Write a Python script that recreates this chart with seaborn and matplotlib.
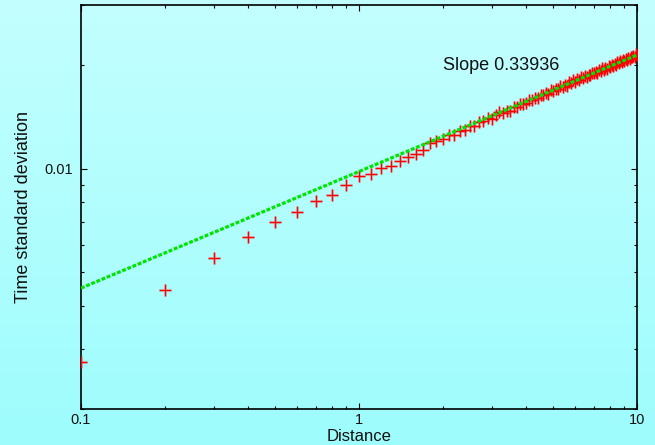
import numpy as np
import pandas as pd
import matplotlib
matplotlib.use("Agg")
import matplotlib.pyplot as plt
import seaborn as sns
from matplotlib.ticker import FixedLocator, FixedFormatter, NullFormatter

# Measured standard deviation of arrival time versus distance
distance = [
    0.1, 0.2, 0.3, 0.4, 0.5, 0.6, 0.7, 0.8, 0.9, 1.0,
    1.1, 1.2, 1.3, 1.4, 1.5, 1.6, 1.7, 1.8, 1.9, 2.0,
    2.1, 2.2, 2.3, 2.4, 2.5, 2.6, 2.7, 2.8, 2.9, 3.0,
    3.1, 3.2, 3.3, 3.4, 3.5, 3.6, 3.7, 3.8, 3.9, 4.0,
    4.1, 4.2, 4.3, 4.4, 4.5, 4.6, 4.7, 4.8, 4.9, 5.0,
    5.1, 5.2, 5.3, 5.4, 5.5, 5.6, 5.7, 5.8, 5.9, 6.0,
    6.1, 6.2, 6.3, 6.4, 6.5, 6.6, 6.7, 6.8, 6.9, 7.0,
    7.1, 7.2, 7.3, 7.4, 7.5, 7.6, 7.7, 7.8, 7.9, 8.0,
    8.1, 8.2, 8.3, 8.4, 8.5, 8.6, 8.7, 8.8, 8.9, 9.0,
    9.1, 9.2, 9.3, 9.4, 9.5, 9.6, 9.7, 9.8, 9.9, 10.0,
]
time_sd = [
    0.002749, 0.004446, 0.005487, 0.006334, 0.006987, 0.007508, 0.008084, 0.008377, 0.009000, 0.009515,
    0.009670, 0.010067, 0.010200, 0.010560, 0.010860, 0.011070, 0.011350, 0.011880, 0.012090, 0.012230,
    0.012590, 0.012580, 0.012860, 0.012990, 0.013300, 0.013370, 0.013700, 0.013740, 0.014060, 0.013990,
    0.014340, 0.014640, 0.014510, 0.014750, 0.014770, 0.015110, 0.015130, 0.015500, 0.015470, 0.015510,
    0.015890, 0.015840, 0.016080, 0.016030, 0.016450, 0.016370, 0.016590, 0.016550, 0.016950, 0.016880,
    0.017130, 0.017040, 0.017440, 0.017340, 0.017540, 0.017450, 0.017860, 0.017790, 0.018110, 0.017940,
    0.018220, 0.018100, 0.018530, 0.018410, 0.018650, 0.018510, 0.018770, 0.018730, 0.019070, 0.018960,
    0.019200, 0.019020, 0.019340, 0.019300, 0.019640, 0.019430, 0.019660, 0.019570, 0.019930, 0.019860,
    0.020120, 0.019960, 0.020210, 0.020090, 0.020470, 0.020370, 0.020550, 0.020430, 0.020810, 0.020640,
    0.020890, 0.020700, 0.020980, 0.020930, 0.021240, 0.021120, 0.021370, 0.021210, 0.021560, 0.021520,
]

# Power-law fit: sd = FIT_AT_ONE * distance ** SLOPE
SLOPE = 0.33936
FIT_AT_ONE = 0.009825
fit_range = [0.1, 10.0]

x_ticks = [0.1, 1, 10]
x_tick_labels = ["0.1", "1", "10"]
x_minor = [0.2, 0.3, 0.4, 0.5, 0.6, 0.7, 0.8, 0.9, 2, 3, 4, 5, 6, 7, 8, 9]
y_ticks = [0.01]
y_tick_labels = ["0.01"]
y_minor = [0.002, 0.003, 0.004, 0.005, 0.006, 0.007, 0.008, 0.009, 0.02, 0.03]
x_limits = (0.1, 10)
y_limits = (0.002, 0.03)

sns.set_theme(style="ticks")
plt.rcParams["font.family"] = ["Liberation Sans", "DejaVu Sans"]
plt.rcParams["text.color"] = "#111111"

points = pd.DataFrame({"Distance": distance, "sd": time_sd})
fit_x = np.array(fit_range)
fit = pd.DataFrame({"Distance": fit_x, "sd": FIT_AT_ONE * fit_x ** SLOPE})

fig = plt.figure(figsize=(6.55, 4.45), dpi=100)

# cyan vertical gradient behind everything
bg = fig.add_axes([0, 0, 1, 1], zorder=0)
top = np.array([0.765, 1.0, 1.0])
bottom = np.array([0.62, 0.99, 0.99])
t = np.linspace(0, 1, 256)[:, None, None]
grad = top * (1 - t) + bottom * t
bg.imshow(grad, aspect="auto", extent=[0, 1, 0, 1], interpolation="bilinear")
bg.set_axis_off()

ax = fig.add_axes([81 / 655, 36 / 445, 556 / 655, 404 / 445], zorder=1)
ax.patch.set_visible(False)
ax.set_xscale("log")
ax.set_yscale("log")

# soft halo under the markers, then the crisp red crosses
sns.scatterplot(data=points, x="Distance", y="sd", ax=ax, marker="+", s=74,
                color="#e06a6a", alpha=0.3, linewidth=2.2, legend=False, zorder=2)
sns.scatterplot(data=points, x="Distance", y="sd", ax=ax, marker="+", s=74,
                color="#ff0000", linewidth=1.0, legend=False, zorder=3)
sns.lineplot(data=fit, x="Distance", y="sd", ax=ax, color="#00e400",
             linewidth=2.3, linestyle=(0, (1.2, 0.55)), zorder=4)

ax.set_xlim(*x_limits)
ax.set_ylim(*y_limits)

ax.xaxis.set_major_locator(FixedLocator(x_ticks))
ax.xaxis.set_major_formatter(FixedFormatter(x_tick_labels))
ax.xaxis.set_minor_locator(FixedLocator(x_minor))
ax.xaxis.set_minor_formatter(NullFormatter())
ax.yaxis.set_major_locator(FixedLocator(y_ticks))
ax.yaxis.set_major_formatter(FixedFormatter(y_tick_labels))
ax.yaxis.set_minor_locator(FixedLocator(y_minor))
ax.yaxis.set_minor_formatter(NullFormatter())

for side in ["top", "right", "bottom", "left"]:
    ax.spines[side].set_visible(True)
    ax.spines[side].set_linewidth(1.2)
    ax.spines[side].set_color("black")

ax.tick_params(which="both", direction="in", top=True, right=True,
               color="black", width=0.8)
ax.tick_params(which="major", length=4.5, labelsize=10.5, labelcolor="#111111")
ax.tick_params(which="minor", length=2.2)
ax.tick_params(axis="x", which="major", pad=3)
ax.tick_params(axis="y", which="major", pad=6)

ax.set_xlabel("Distance", fontsize=12, color="#111111")
ax.set_ylabel("Time standard deviation", fontsize=13, color="#111111")
ax.xaxis.set_label_coords(0.5, -0.049)
ax.yaxis.set_label_coords(-0.088, 0.5)

ax.text(2.0, 0.02, "Slope 0.33936", fontsize=13, color="#111111",
        ha="left", va="center")

fig.savefig("out.png", dpi=100)
